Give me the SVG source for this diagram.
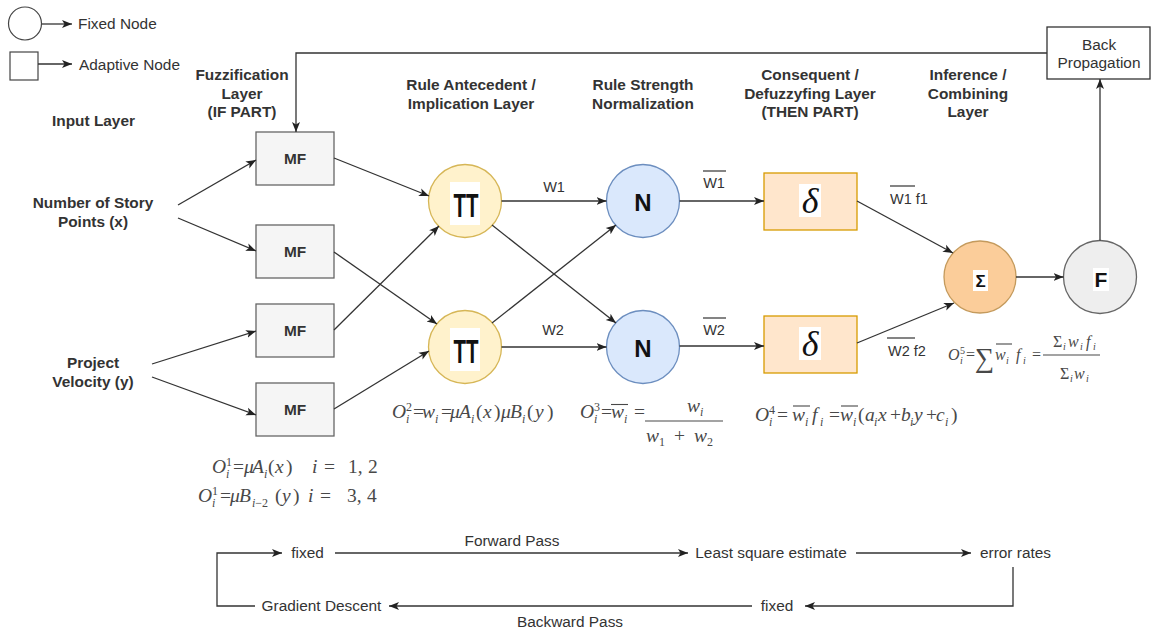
<svg xmlns="http://www.w3.org/2000/svg" width="1152" height="633" viewBox="0 0 1152 633">
  <style>
    .lbl { font-family: "Liberation Sans", Arial, sans-serif; font-size: 15.4px; fill: #333; }
    .b { font-weight: bold; }
    .c { text-anchor: middle; }
    .m { font-family: "Liberation Serif", "DejaVu Serif", serif; font-size: 19.5px; fill: #484848; }
    .it { font-style: italic; }
    .s { font-size: 12px; }
    .edge { fill: none; stroke: #333; stroke-width: 1.3; marker-end: url(#arr); }
    .line { fill: none; stroke: #333; stroke-width: 1.3; }
    .bar { stroke: #484848; stroke-width: 1.1; }
    .mf { fill: #f5f5f5; stroke: #666; stroke-width: 1.3; }
    .pi { fill: #fff2cc; stroke: #d6b656; stroke-width: 1.3; }
    .nn { fill: #dae8fc; stroke: #6c8ebf; stroke-width: 1.3; }
    .dl { fill: #ffe6cc; stroke: #d79b00; stroke-width: 1.3; }
    .sg { fill: #fbcd9a; stroke: #c49a5c; stroke-width: 1.3; }
    .ff { fill: #eeeeee; stroke: #666; stroke-width: 1.3; }
    .wb { fill: #ffffff; }
  </style>
  <defs>
    <marker id="arr" markerUnits="userSpaceOnUse" markerWidth="12" markerHeight="10" refX="10" refY="5" orient="auto">
      <path d="M0,1 L10,5 L0,9 L2.5,5 Z" fill="#222"/>
    </marker>
  </defs>

  <rect width="1152" height="633" fill="#ffffff"/>

  <!-- legend -->
  <g id="legend">
    <circle cx="25" cy="23.5" r="16.5" fill="#fff" stroke="#444" stroke-width="1.2"/>
    <path class="edge" d="M42,24 H72"/>
    <text class="lbl" x="78" y="29">Fixed Node</text>
    <rect x="10" y="52" width="28" height="28" fill="#fff" stroke="#444" stroke-width="1.2"/>
    <path class="edge" d="M38,64 H72"/>
    <text class="lbl" x="79" y="70">Adaptive Node</text>
  </g>

  <!-- layer titles -->
  <g id="titles" class="lbl b c">
    <text x="93.5" y="126">Input Layer</text>
    <text x="242" y="80">Fuzzification</text>
    <text x="242" y="99">Layer</text>
    <text x="242" y="117">(IF PART)</text>
    <text x="471" y="90">Rule Antecedent /</text>
    <text x="471" y="109">Implication Layer</text>
    <text x="643" y="90">Rule Strength</text>
    <text x="643" y="109">Normalization</text>
    <text x="810" y="80">Consequent /</text>
    <text x="810" y="99">Defuzzyfing Layer</text>
    <text x="810" y="117">(THEN PART)</text>
    <text x="968" y="80">Inference /</text>
    <text x="968" y="99">Combining</text>
    <text x="968" y="117">Layer</text>
  </g>

  <!-- inputs -->
  <g id="input-x" class="lbl b c">
    <text x="93" y="208">Number of Story</text>
    <text x="93" y="227">Points (x)</text>
  </g>
  <g id="input-y" class="lbl b c">
    <text x="93" y="368">Project</text>
    <text x="93" y="387">Velocity (y)</text>
  </g>

  <!-- membership function nodes -->
  <g id="mf1"><rect class="mf" x="256" y="132" width="78" height="53"/><text class="lbl b c" x="295" y="164">MF</text></g>
  <g id="mf2"><rect class="mf" x="256" y="225" width="78" height="53"/><text class="lbl b c" x="295" y="257">MF</text></g>
  <g id="mf3"><rect class="mf" x="256" y="304" width="78" height="53"/><text class="lbl b c" x="295" y="336">MF</text></g>
  <g id="mf4"><rect class="mf" x="256" y="383" width="78" height="53"/><text class="lbl b c" x="295" y="415">MF</text></g>

  <!-- product nodes -->
  <g id="pi1">
    <circle class="pi" cx="465" cy="201" r="36.5"/>
    <rect class="wb" x="450" y="182" width="30" height="43"/>
    <text class="lbl b c" x="466" y="217" textLength="25" lengthAdjust="spacingAndGlyphs" style="font-size:34px;fill:#111">TT</text>
  </g>
  <g id="pi2">
    <circle class="pi" cx="465" cy="347" r="36.5"/>
    <rect class="wb" x="450" y="328" width="30" height="43"/>
    <text class="lbl b c" x="466" y="363" textLength="25" lengthAdjust="spacingAndGlyphs" style="font-size:34px;fill:#111">TT</text>
  </g>

  <!-- normalisation nodes -->
  <g id="n1">
    <circle class="nn" cx="643" cy="201" r="36.5"/>
    <text class="lbl b c" x="643" y="211" style="font-size:24px;fill:#111">N</text>
  </g>
  <g id="n2">
    <circle class="nn" cx="643" cy="347" r="36.5"/>
    <text class="lbl b c" x="643" y="357" style="font-size:24px;fill:#111">N</text>
  </g>

  <!-- consequent nodes -->
  <g id="d1">
    <rect class="dl" x="764" y="173" width="93" height="57"/>
    <rect class="wb" x="799" y="184" width="22" height="33"/>
    <text class="m it c" x="810" y="213" style="font-size:36px;fill:#111">δ</text>
  </g>
  <g id="d2">
    <rect class="dl" x="764" y="316" width="93" height="57"/>
    <rect class="wb" x="799" y="327" width="22" height="33"/>
    <text class="m it c" x="810" y="356" style="font-size:36px;fill:#111">δ</text>
  </g>

  <!-- summation node -->
  <g id="sum">
    <circle class="sg" cx="980" cy="277" r="36"/>
    <rect class="wb" x="973" y="270" width="15" height="21"/>
    <text class="lbl b c" x="980.5" y="287" style="font-size:17px;fill:#111">Σ</text>
  </g>

  <!-- output node -->
  <g id="out">
    <circle class="ff" cx="1100" cy="277" r="36.5"/>
    <rect class="wb" x="1093" y="268" width="16" height="23"/>
    <text class="lbl b c" x="1101" y="287" style="font-size:21px;fill:#111">F</text>
  </g>

  <!-- back propagation box -->
  <g id="backprop">
    <rect x="1047" y="27" width="103" height="52" fill="#fff" stroke="#333" stroke-width="1.3"/>
    <text class="lbl c" x="1099" y="49.5">Back</text>
    <text class="lbl c" x="1099" y="67.5">Propagation</text>
  </g>

  <!-- connectors -->
  <g id="connectors">
    <path class="edge" d="M178,205 L256,160"/>
    <path class="edge" d="M178,218 L256,251"/>
    <path class="edge" d="M152,364 L256,331"/>
    <path class="edge" d="M152,377 L256,415"/>

    <path class="edge" d="M334,158 L429,196"/>
    <path class="edge" d="M334,252 L437,324"/>
    <path class="edge" d="M334,330 L439,226"/>
    <path class="edge" d="M334,409 L429,351"/>

    <path class="edge" d="M501.5,201 H606.5"/>
    <path class="edge" d="M501.5,347 H606.5"/>
    <path class="edge" d="M492,225 L616,323"/>
    <path class="edge" d="M492,323 L616,225"/>

    <path class="edge" d="M679.5,201 H764"/>
    <path class="edge" d="M679.5,346 H764"/>

    <path class="edge" d="M857,201 L953,253"/>
    <path class="edge" d="M857,343 L954,303"/>

    <path class="edge" d="M1016,277 H1063.5"/>
    <path class="edge" d="M1100,240.5 V79"/>
    <path class="edge" d="M1047,53 H296 V132"/>
  </g>

  <!-- connector labels -->
  <g id="edge-labels" class="lbl c" style="font-size:14.5px">
    <text x="554" y="192">W1</text>
    <text x="553" y="335">W2</text>
    <text x="714" y="188">W1</text>
    <text x="714" y="335">W2</text>
    <text x="909" y="204">W1 f1</text>
    <text x="907" y="356">W2 f2</text>
  </g>
  <g id="edge-bars" class="line" style="stroke-width:1.2">
    <path d="M703,171 H726"/>
    <path d="M703,318 H726"/>
    <path d="M890,186 H915"/>
    <path d="M887,338 H915"/>
  </g>

  <!-- layer 1 output -->
  <g id="eq1" class="m">
    <text y="473"><tspan x="212" class="it">O</tspan><tspan x="226" y="466" class="s">1</tspan><tspan x="226" y="478" class="s it">i</tspan><tspan x="233" y="473">=</tspan><tspan x="244" class="it">μ</tspan><tspan x="252" class="it">A</tspan><tspan x="264" y="478" class="s it">i</tspan><tspan x="268" y="473">(</tspan><tspan x="275" class="it">x</tspan><tspan x="286">)</tspan><tspan x="312" class="it">i</tspan><tspan x="324">=</tspan><tspan x="348">1,</tspan><tspan x="368">2</tspan></text>
    <text y="502"><tspan x="198" class="it">O</tspan><tspan x="212" y="495" class="s">1</tspan><tspan x="212" y="507" class="s it">i</tspan><tspan x="220" y="502">=</tspan><tspan x="230" class="it">μ</tspan><tspan x="239" class="it">B</tspan><tspan x="252" y="507" class="s"><tspan class="it">i</tspan>−2</tspan><tspan x="275" y="502">(</tspan><tspan x="282" class="it">y</tspan><tspan x="293">)</tspan><tspan x="308" class="it">i</tspan><tspan x="320">=</tspan><tspan x="347">3,</tspan><tspan x="367">4</tspan></text>
  </g>

  <!-- layer 2 output -->
  <g id="eq2" class="m">
    <text y="418"><tspan x="392" class="it">O</tspan><tspan x="406" y="411" class="s">2</tspan><tspan x="406" y="423" class="s it">i</tspan><tspan x="413" y="418">=</tspan><tspan x="422" class="it">w</tspan><tspan x="435" y="423" class="s it">i</tspan><tspan x="441" y="418">=</tspan><tspan x="450" class="it">μ</tspan><tspan x="459" class="it">A</tspan><tspan x="471" y="423" class="s it">i</tspan><tspan x="476" y="418">(</tspan><tspan x="483" class="it">x</tspan><tspan x="494">)</tspan><tspan x="501" class="it">μ</tspan><tspan x="510" class="it">B</tspan><tspan x="522" y="423" class="s it">i</tspan><tspan x="527" y="418">(</tspan><tspan x="535" class="it">y</tspan><tspan x="547">)</tspan></text>
  </g>

  <!-- layer 3 output -->
  <g id="eq3" class="m">
    <text y="418"><tspan x="580" class="it">O</tspan><tspan x="594" y="411" class="s">3</tspan><tspan x="594" y="423" class="s it">i</tspan><tspan x="601" y="418">=</tspan><tspan x="611" class="it">w</tspan><tspan x="624" y="423" class="s it">i</tspan><tspan x="634" y="418">=</tspan></text>
    <path class="bar" d="M611,404.5 H628"/>
    <text y="412"><tspan x="687" class="it">w</tspan><tspan x="700" y="416" class="s it">i</tspan></text>
    <path class="bar" d="M645,421 H723"/>
    <text y="442"><tspan x="646" class="it">w</tspan><tspan x="659" y="446" class="s">1</tspan><tspan x="674" y="442">+</tspan><tspan x="694" class="it">w</tspan><tspan x="707" y="446" class="s">2</tspan></text>
  </g>

  <!-- layer 4 output -->
  <g id="eq4" class="m">
    <text y="421"><tspan x="755" class="it">O</tspan><tspan x="769" y="414" class="s">4</tspan><tspan x="769" y="426" class="s it">i</tspan><tspan x="777" y="421">=</tspan><tspan x="792" class="it">w</tspan><tspan x="805" y="426" class="s it">i</tspan><tspan x="812" y="421" class="it">f</tspan><tspan x="820" y="426" class="s it">i</tspan><tspan x="829" y="421">=</tspan><tspan x="840" class="it">w</tspan><tspan x="853" y="426" class="s it">i</tspan><tspan x="858" y="421">(</tspan><tspan x="865" class="it">a</tspan><tspan x="874" y="426" class="s it">i</tspan><tspan x="878" y="421" class="it">x</tspan><tspan x="890">+</tspan><tspan x="901" class="it">b</tspan><tspan x="910" y="426" class="s it">i</tspan><tspan x="914" y="421" class="it">y</tspan><tspan x="926">+</tspan><tspan x="936" class="it">c</tspan><tspan x="945" y="426" class="s it">i</tspan><tspan x="951" y="421">)</tspan></text>
    <path class="bar" d="M793,406 H810"/>
    <path class="bar" d="M841,406 H858"/>
  </g>

  <!-- layer 5 output -->
  <g id="eq5" class="m" style="font-size:16px">
    <text y="360"><tspan x="948" class="it">O</tspan><tspan x="960" y="354" class="s" style="font-size:10px">5</tspan><tspan x="960" y="364" class="s it" style="font-size:10px">i</tspan><tspan x="966" y="360">=</tspan><tspan x="975" y="367" style="font-size:27px">∑</tspan><tspan x="995" y="360" class="it">w</tspan><tspan x="1006" y="364" class="s it" style="font-size:10px">i</tspan><tspan x="1016" y="360" class="it">f</tspan><tspan x="1023" y="364" class="s it" style="font-size:10px">i</tspan><tspan x="1032" y="360">=</tspan></text>
    <path class="bar" d="M996,344 H1012"/>
    <text y="347"><tspan x="1053">Σ</tspan><tspan x="1063" y="350" class="s it" style="font-size:10px">i</tspan><tspan x="1068" y="347" class="it">w</tspan><tspan x="1080" y="350" class="s it" style="font-size:10px">i</tspan><tspan x="1086" y="347" class="it">f</tspan><tspan x="1093" y="350" class="s it" style="font-size:10px">i</tspan></text>
    <path class="bar" d="M1043,355 H1100"/>
    <text y="379"><tspan x="1060">Σ</tspan><tspan x="1070" y="382" class="s it" style="font-size:10px">i</tspan><tspan x="1074" y="379" class="it">w</tspan><tspan x="1086" y="382" class="s it" style="font-size:10px">i</tspan></text>
  </g>

  <!-- training cycle -->
  <g id="cycle-fixed-1"><text class="lbl c" x="307.5" y="558">fixed</text></g>
  <g id="cycle-lse"><text class="lbl c" x="771" y="558">Least square estimate</text></g>
  <g id="cycle-error"><text class="lbl c" x="1015.5" y="558">error rates</text></g>
  <g id="cycle-fixed-2"><text class="lbl c" x="777" y="611">fixed</text></g>
  <g id="cycle-gd"><text class="lbl c" x="321.5" y="611">Gradient Descent</text></g>
  <g id="cycle-edges">
    <path class="edge" d="M255,606 H217 V553 H282"/>
    <path class="edge" d="M335,553 H688"/>
    <path class="edge" d="M856,553 H971"/>
    <path class="edge" d="M1013,567 V606 H805"/>
    <path class="edge" d="M752,606 H389"/>
  </g>
  <g id="cycle-labels" class="lbl c">
    <text x="512" y="546">Forward Pass</text>
    <text x="570" y="627">Backward Pass</text>
  </g>
</svg>
